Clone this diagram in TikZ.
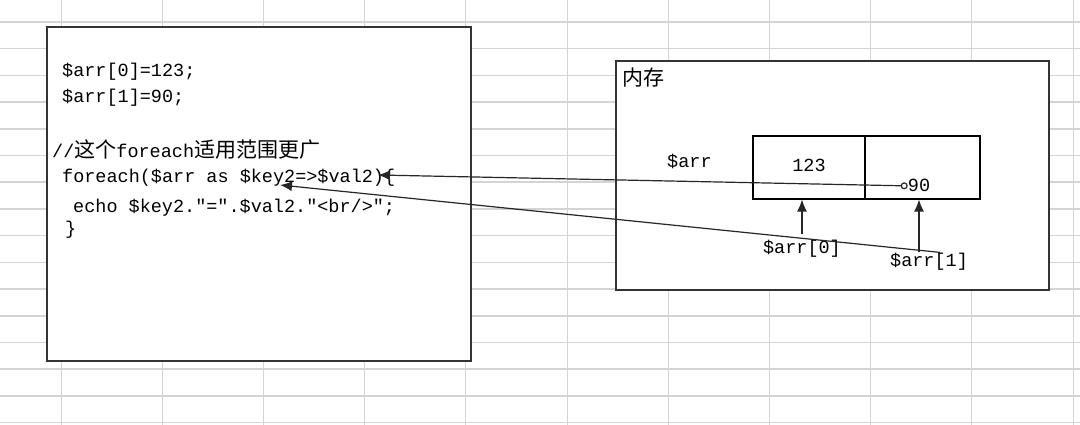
\documentclass[tikz,border=0pt]{standalone}
\usepackage{fontspec}
\setmonofont{Liberation Mono}
\newfontfamily\cjk{Noto Sans CJK SC}
\usetikzlibrary{arrows.meta}

\newcommand{\codesize}{\fontsize{18.5}{22}\selectfont}
\newcommand{\zh}[1]{{\cjk\fontsize{21}{24}\selectfont #1}}

\tikzset{
  grid line/.style={black!17},
  box/.style={draw=black!80, line width=1.6pt, fill=white, inner sep=0pt},
  cell/.style={draw, line width=1.1pt, inner sep=0pt, minimum height=63pt},
  code/.style={anchor=base west, inner sep=0pt, font=\ttfamily\codesize},
  link/.style={line width=1.2pt, black!85},
  tip/.style={-{Latex[length=12pt,width=10pt]}}
}

\begin{document}
\begin{tikzpicture}[x=1pt,y=-1pt]
\useasboundingbox (0,0) rectangle (1080,425);
\fill[white] (0,0) rectangle (1080,425);

% sheet grid
\foreach \i in {0,...,10}
  \draw[grid line, line width=1pt] (61+101.2*\i,0) -- (61+101.2*\i,425);
\foreach \j in {0,...,15}
  \draw[grid line, line width=1.6pt] (0,22+26.7*\j) -- (1080,22+26.7*\j);

% code box
\node[box, minimum width=424pt, minimum height=334pt] (code) at (259,194) {};
\node[code] (l1) at (62,77) {\$arr[0]=123;};
\node[code] (l2) at (62,103) {\$arr[1]=90;};
\node[code] (l3) at (52,158) {//\zh{这个}foreach\zh{适用范围更广}};
\node[code] (l4) at (62,183) {foreach(\$arr as \$key2=>\$val2)\{};
\node[code] (l5) at (73,212) {echo \$key2."=".\$val2."<br/>";};
\node[code] (l6) at (65,234) {\}};

% memory box
\node[box, minimum width=433pt, minimum height=229pt] (mem) at (832.5,175.5) {};
\node[anchor=base west, inner sep=0pt] (memname) at (622,86) {\zh{内存}};
\node[code] (arr) at (667,168) {\$arr};
\node[cell, minimum width=112pt] (c0) at (809,167.5) {};
\node[cell, minimum width=115pt] (c1) at (922.5,167.5) {};
\node[code, anchor=base] (v0) at (809,172) {123};
\node[code, anchor=base] (v1) at (919,192) {90};
\node[code, anchor=base] (a0) at (802,253) {\$arr[0]};
\node[code, anchor=base] (a1) at (929,266) {\$arr[1]};

% arrows
\coordinate (valtip) at (378,175);
\coordinate (keytip) at (280,185);
\draw[link, {Circle[open,length=7pt]}-{Latex[length=12pt,width=10pt]}] (v1.west) -- (valtip);
\draw[link, tip] ([xshift=11pt]a1.north) -- (keytip);
\draw[link, tip] ([yshift=5pt]a0.north) -- (a0.north |- c0.south);
\draw[link, tip] (a1.north -| v1) -- (v1 |- c1.south);
\end{tikzpicture}
\end{document}
